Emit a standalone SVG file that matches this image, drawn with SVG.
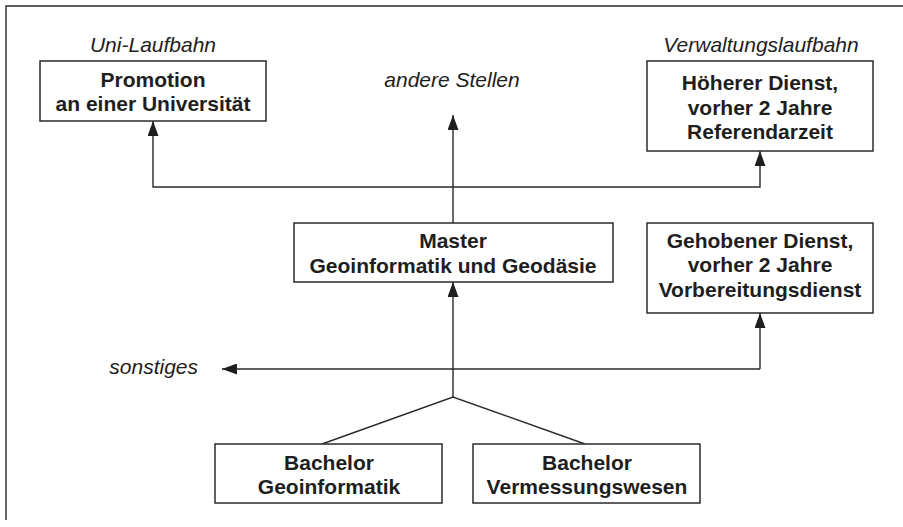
<svg xmlns="http://www.w3.org/2000/svg" width="903" height="527" viewBox="0 0 903 527">
<style>
.box{fill:#fff;stroke:#2a2a2a;stroke-width:1.5}
.t{font-family:"Liberation Sans",Arial,sans-serif;font-size:21px;font-weight:bold;fill:#1e1e1e;text-anchor:middle}
.i{font-family:"Liberation Sans",Arial,sans-serif;font-size:21px;font-style:italic;fill:#1e1e1e;text-anchor:middle}
.ln{fill:none;stroke:#2a2a2a;stroke-width:1.4}
</style>
<defs>
<marker id="ah" viewBox="0 0 15 11" refX="15" refY="5.5" markerWidth="15" markerHeight="11" markerUnits="userSpaceOnUse" orient="auto">
<path d="M0,0 L15,5.5 L0,11 Z" fill="#1e1e1e"/>
</marker>
</defs>
<rect width="903" height="527" fill="#fff"/>
<g id="frame"><path class="ln" d="M6,520 L6,6 L903,6"/></g>
<g id="connectors">
<path class="ln" d="M453,223 L453,115" marker-end="url(#ah)"/>
<path class="ln" d="M453,187 L153,187 L153,121" marker-end="url(#ah)"/>
<path class="ln" d="M453,187 L760,187 L760,151" marker-end="url(#ah)"/>
<path class="ln" d="M453,397 L453,282" marker-end="url(#ah)"/>
<path class="ln" d="M760,369 L760,313" marker-end="url(#ah)"/>
<path class="ln" d="M760,369 L222,369" marker-end="url(#ah)"/>
<path class="ln" d="M322,444 L453,397 L585,444"/>
</g>
<g id="label-uni"><text class="i" x="153" y="52">Uni-Laufbahn</text></g>
<g id="label-verwaltung"><text class="i" x="761" y="52">Verwaltungslaufbahn</text></g>
<g id="label-andere"><text class="i" x="452" y="87">andere Stellen</text></g>
<g id="label-sonstiges"><text class="i" x="198" y="374" style="text-anchor:end">sonstiges</text></g>
<g id="promotion">
<rect class="box" x="40" y="61" width="226" height="60"/>
<text class="t" x="153" y="87">Promotion</text>
<text class="t" x="153" y="111">an einer Universität</text>
</g>
<g id="hoeherer">
<rect class="box" x="647" y="61" width="226" height="90"/>
<text class="t" x="760" y="90">Höherer Dienst,</text>
<text class="t" x="760" y="115">vorher 2 Jahre</text>
<text class="t" x="760" y="139">Referendarzeit</text>
</g>
<g id="master">
<rect class="box" x="294" y="223" width="319" height="59"/>
<text class="t" x="453" y="248">Master</text>
<text class="t" x="453" y="273">Geoinformatik und Geodäsie</text>
</g>
<g id="gehobener">
<rect class="box" x="647" y="223" width="226" height="90"/>
<text class="t" x="760" y="248">Gehobener Dienst,</text>
<text class="t" x="760" y="272">vorher 2 Jahre</text>
<text class="t" x="760" y="297">Vorbereitungsdienst</text>
</g>
<g id="bachelor-geo">
<rect class="box" x="215" y="444" width="227" height="59"/>
<text class="t" x="329" y="470">Bachelor</text>
<text class="t" x="329" y="494">Geoinformatik</text>
</g>
<g id="bachelor-verm">
<rect class="box" x="473" y="444" width="227" height="59"/>
<text class="t" x="587" y="470">Bachelor</text>
<text class="t" x="587" y="494">Vermessungswesen</text>
</g>
</svg>
